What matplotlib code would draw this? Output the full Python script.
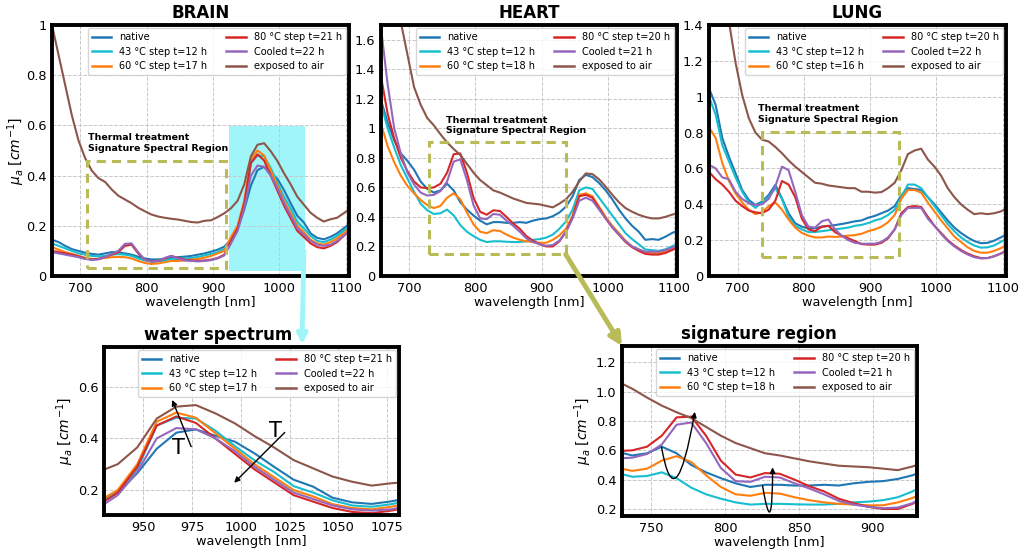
#!/usr/bin/env python3
"""
Absorption spectra (mu_a) of brain / heart / lung during thermal treatment,
plus zoomed views of the water band (brain) and the signature region (heart).
"""

import numpy as np
import matplotlib
matplotlib.use("Agg")
import matplotlib.pyplot as plt
from matplotlib.patches import Rectangle, ConnectionPatch
from matplotlib.ticker import FormatStrFormatter

OUT_PNG = "out.png"

# ── Data (10 nm steps) ────────────────────────────────────────────────────────
wavelength = np.arange(657, 1108, 10)

brain_native = [0.145, 0.135, 0.12, 0.107, 0.10, 0.093, 0.088, 0.085, 0.09, 0.095,
                0.095, 0.09, 0.085, 0.077, 0.07, 0.066, 0.066, 0.068, 0.072, 0.075,
                0.077, 0.08, 0.085, 0.09, 0.097, 0.105, 0.117, 0.145, 0.19, 0.265,
                0.36, 0.422, 0.435, 0.41, 0.387, 0.342, 0.29, 0.24, 0.213, 0.17,
                0.152, 0.146, 0.156, 0.17, 0.19, 0.21]
brain_43 = [0.13, 0.12, 0.11, 0.10, 0.09, 0.085, 0.08, 0.078, 0.08, 0.085,
            0.087, 0.085, 0.08, 0.07, 0.062, 0.058, 0.058, 0.062, 0.067, 0.068,
            0.07, 0.072, 0.076, 0.082, 0.088, 0.095, 0.108, 0.15, 0.195, 0.28,
            0.45, 0.48, 0.477, 0.43, 0.37, 0.315, 0.27, 0.215, 0.19, 0.16,
            0.14, 0.135, 0.145, 0.16, 0.18, 0.20]
brain_60 = [0.115, 0.105, 0.095, 0.088, 0.08, 0.073, 0.068, 0.068, 0.072, 0.075,
            0.076, 0.075, 0.07, 0.06, 0.052, 0.048, 0.05, 0.055, 0.06, 0.06,
            0.062, 0.065, 0.068, 0.073, 0.08, 0.09, 0.10, 0.155, 0.20, 0.30,
            0.465, 0.50, 0.48, 0.42, 0.36, 0.30, 0.25, 0.20, 0.175, 0.145,
            0.13, 0.125, 0.135, 0.15, 0.17, 0.19]
brain_80 = [0.10, 0.095, 0.09, 0.085, 0.078, 0.07, 0.066, 0.068, 0.075, 0.085,
            0.095, 0.12, 0.125, 0.09, 0.065, 0.058, 0.06, 0.07, 0.08, 0.072,
            0.065, 0.062, 0.06, 0.062, 0.065, 0.072, 0.085, 0.14, 0.19, 0.29,
            0.45, 0.485, 0.46, 0.40, 0.34, 0.28, 0.23, 0.18, 0.155, 0.13,
            0.115, 0.11, 0.12, 0.135, 0.16, 0.18]
brain_cooled = [0.095, 0.09, 0.085, 0.08, 0.075, 0.068, 0.064, 0.066, 0.075, 0.088,
                0.10, 0.128, 0.13, 0.095, 0.065, 0.057, 0.06, 0.072, 0.08, 0.07,
                0.062, 0.06, 0.058, 0.06, 0.063, 0.07, 0.082, 0.13, 0.18, 0.27,
                0.40, 0.44, 0.435, 0.40, 0.35, 0.29, 0.24, 0.19, 0.165, 0.14,
                0.125, 0.12, 0.125, 0.14, 0.16, 0.18]
brain_air = [1.0, 0.88, 0.76, 0.64, 0.54, 0.47, 0.42, 0.39, 0.375, 0.345,
             0.32, 0.305, 0.29, 0.272, 0.258, 0.245, 0.237, 0.232, 0.228, 0.225,
             0.22, 0.215, 0.213, 0.22, 0.222, 0.235, 0.25, 0.27, 0.30, 0.365,
             0.477, 0.523, 0.529, 0.497, 0.458, 0.409, 0.365, 0.316, 0.284, 0.252,
             0.232, 0.217, 0.226, 0.232, 0.25, 0.27]

heart_native = [1.19, 1.04, 0.92, 0.83, 0.78, 0.72, 0.64, 0.59, 0.565, 0.58,
                0.625, 0.58, 0.50, 0.45, 0.41, 0.375, 0.35, 0.365, 0.365, 0.36,
                0.36, 0.365, 0.36, 0.375, 0.385, 0.39, 0.405, 0.43, 0.47, 0.54,
                0.65, 0.685, 0.67, 0.63, 0.58, 0.52, 0.45, 0.39, 0.34, 0.30,
                0.245, 0.25, 0.245, 0.265, 0.29, 0.31]
heart_43 = [1.17, 1.0, 0.87, 0.75, 0.66, 0.57, 0.49, 0.445, 0.42, 0.425,
            0.45, 0.41, 0.345, 0.30, 0.27, 0.245, 0.23, 0.235, 0.235, 0.232,
            0.23, 0.23, 0.235, 0.245, 0.25, 0.26, 0.28, 0.32, 0.37, 0.45,
            0.58, 0.60, 0.59, 0.53, 0.47, 0.41, 0.35, 0.29, 0.25, 0.215,
            0.18, 0.175, 0.17, 0.18, 0.20, 0.22]
heart_60 = [1.03, 0.88, 0.77, 0.68, 0.61, 0.56, 0.515, 0.48, 0.46, 0.475,
            0.53, 0.56, 0.52, 0.43, 0.35, 0.30, 0.29, 0.31, 0.305, 0.28,
            0.26, 0.245, 0.235, 0.23, 0.225, 0.225, 0.245, 0.275, 0.32, 0.41,
            0.55, 0.56, 0.54, 0.47, 0.40, 0.34, 0.29, 0.24, 0.20, 0.18,
            0.16, 0.155, 0.155, 0.165, 0.18, 0.20]
heart_80 = [1.35, 1.10, 0.93, 0.80, 0.71, 0.64, 0.60, 0.595, 0.60, 0.625,
            0.70, 0.825, 0.83, 0.70, 0.53, 0.435, 0.415, 0.445, 0.44, 0.40,
            0.355, 0.32, 0.27, 0.24, 0.215, 0.20, 0.20, 0.235, 0.30, 0.40,
            0.54, 0.55, 0.53, 0.46, 0.39, 0.33, 0.28, 0.23, 0.195, 0.17,
            0.15, 0.145, 0.145, 0.155, 0.175, 0.195]
heart_cooled = [1.68, 1.30, 1.00, 0.83, 0.70, 0.62, 0.565, 0.545, 0.55, 0.575,
                0.64, 0.775, 0.79, 0.65, 0.48, 0.39, 0.385, 0.42, 0.415, 0.375,
                0.34, 0.30, 0.255, 0.23, 0.215, 0.205, 0.21, 0.24, 0.30, 0.39,
                0.51, 0.53, 0.51, 0.45, 0.39, 0.33, 0.28, 0.235, 0.20, 0.18,
                0.165, 0.165, 0.165, 0.175, 0.19, 0.21]
heart_air = [2.6, 2.3, 2.0, 1.72, 1.5, 1.28, 1.16, 1.07, 1.02, 0.96,
             0.905, 0.86, 0.82, 0.76, 0.70, 0.65, 0.615, 0.58, 0.565, 0.545,
             0.525, 0.51, 0.495, 0.49, 0.485, 0.475, 0.465, 0.49, 0.52, 0.57,
             0.64, 0.695, 0.69, 0.655, 0.605, 0.55, 0.50, 0.46, 0.435, 0.415,
             0.40, 0.39, 0.39, 0.40, 0.415, 0.425]

lung_native = [1.047, 0.954, 0.77, 0.666, 0.573, 0.48, 0.424, 0.396, 0.415, 0.452,
               0.508, 0.433, 0.35, 0.294, 0.275, 0.266, 0.266, 0.275, 0.279, 0.284,
               0.29, 0.297, 0.305, 0.31, 0.325, 0.335, 0.35, 0.365, 0.39, 0.45,
               0.49, 0.485, 0.48, 0.44, 0.40, 0.355, 0.31, 0.27, 0.24, 0.215,
               0.195, 0.183, 0.185, 0.197, 0.215, 0.235]
lung_43 = [1.0, 0.9, 0.73, 0.64, 0.55, 0.47, 0.41, 0.38, 0.41, 0.44,
           0.49, 0.43, 0.33, 0.28, 0.26, 0.245, 0.245, 0.25, 0.255, 0.26,
           0.265, 0.27, 0.28, 0.285, 0.295, 0.31, 0.32, 0.34, 0.37, 0.44,
           0.51, 0.51, 0.49, 0.44, 0.39, 0.34, 0.29, 0.25, 0.215, 0.19,
           0.17, 0.158, 0.16, 0.17, 0.19, 0.21]
lung_60 = [0.83, 0.77, 0.63, 0.53, 0.46, 0.41, 0.37, 0.345, 0.355, 0.39,
           0.41, 0.37, 0.315, 0.27, 0.24, 0.225, 0.215, 0.215, 0.22, 0.218,
           0.22, 0.225, 0.228, 0.235, 0.25, 0.26, 0.275, 0.30, 0.34, 0.43,
           0.48, 0.48, 0.465, 0.41, 0.36, 0.31, 0.265, 0.22, 0.19, 0.16,
           0.14, 0.13, 0.13, 0.14, 0.155, 0.175]
lung_80 = [0.58, 0.54, 0.51, 0.47, 0.42, 0.39, 0.365, 0.355, 0.35, 0.37,
           0.42, 0.53, 0.51, 0.44, 0.32, 0.26, 0.25, 0.275, 0.28, 0.245,
           0.225, 0.21, 0.195, 0.178, 0.175, 0.175, 0.185, 0.21, 0.26, 0.35,
           0.385, 0.39, 0.385, 0.33, 0.28, 0.24, 0.20, 0.17, 0.145, 0.125,
           0.11, 0.10, 0.10, 0.11, 0.125, 0.145]
lung_cooled = [0.62, 0.60, 0.55, 0.54, 0.47, 0.43, 0.405, 0.395, 0.40, 0.43,
               0.50, 0.61, 0.59, 0.47, 0.34, 0.275, 0.27, 0.305, 0.315, 0.26,
               0.225, 0.20, 0.185, 0.18, 0.18, 0.18, 0.19, 0.215, 0.26, 0.34,
               0.38, 0.38, 0.38, 0.32, 0.28, 0.235, 0.195, 0.165, 0.14, 0.12,
               0.105, 0.098, 0.10, 0.11, 0.125, 0.145]
lung_air = [2.2, 1.9, 1.65, 1.42, 1.19, 1.01, 0.88, 0.80, 0.76, 0.75,
            0.72, 0.685, 0.645, 0.61, 0.58, 0.55, 0.52, 0.515, 0.505, 0.50,
            0.495, 0.49, 0.49, 0.47, 0.47, 0.465, 0.468, 0.49, 0.52, 0.59,
            0.68, 0.70, 0.71, 0.65, 0.61, 0.56, 0.49, 0.44, 0.40, 0.37,
            0.345, 0.35, 0.345, 0.35, 0.36, 0.38]

brain_labels = ["native", "43 °C step t=12 h", "60 °C step t=17 h",
                "80 °C step t=21 h", "Cooled t=22 h", "exposed to air"]
heart_labels = ["native", "43 °C step t=12 h", "60 °C step t=18 h",
                "80 °C step t=20 h", "Cooled t=21 h", "exposed to air"]
lung_labels = ["native", "43 °C step t=12 h", "60 °C step t=16 h",
               "80 °C step t=20 h", "Cooled t=22 h", "exposed to air"]

COLORS = ["#1f77b4", "#17becf", "#ff7f0e", "#d62728", "#9467bd", "#8c564b"]
OLIVE = "#b8bb58"
AQUA = "#a0f5f8"
REGION_TXT = "Thermal treatment\nSignature Spectral Region"
YLABEL = r"$\mu_a\ [cm^{-1}]$"

brain = [brain_native, brain_43, brain_60, brain_80, brain_cooled, brain_air]
heart = [heart_native, heart_43, heart_60, heart_80, heart_cooled, heart_air]
lung = [lung_native, lung_43, lung_60, lung_80, lung_cooled, lung_air]


def draw_panel(ax, series, labels, xlim, ylim, fmt=None):
    for vals, lab, col in zip(series, labels, COLORS):
        ax.plot(wavelength, vals, color=col, lw=1.5, label=lab)
    ax.set_xlim(*xlim)
    ax.set_ylim(*ylim)
    ax.grid(True, ls="--", color="#c8c8c8", lw=0.7)
    ax.set_axisbelow(True)
    ax.tick_params(length=0, labelsize=9.3, pad=4)
    for sp in ax.spines.values():
        sp.set_linewidth(2.8)
        sp.set_color("black")
    if fmt:
        ax.yaxis.set_major_formatter(FormatStrFormatter(fmt))
    ax.set_xlabel("wavelength [nm]", fontsize=9.3, labelpad=1)
    leg = ax.legend(loc="upper right", ncol=2, fontsize=7.0, borderaxespad=0.35,
                    labelspacing=0.45, borderpad=0.4)
    for h in leg.get_lines():
        h.set_linewidth(1.8)


def region_box(ax, x0, x1, y0, y1, tx, ty):
    ax.add_patch(Rectangle((x0, y0), x1 - x0, y1 - y0, fill=False, ec=OLIVE,
                           lw=2.2, ls=(0, (3, 2)), zorder=4))
    ax.text(tx, ty, REGION_TXT, fontsize=6.8, fontweight="bold", ha="left",
            va="bottom", linespacing=1.25, zorder=5)


fig = plt.figure(figsize=(10.19, 5.52), dpi=100)

# ── Top row ───────────────────────────────────────────────────────────────────
ax_b = fig.add_axes([0.0510, 0.5, 0.2915, 0.4547])
ax_h = fig.add_axes([0.3739, 0.5, 0.2905, 0.4547])
ax_l = fig.add_axes([0.6958, 0.5, 0.2915, 0.4547])

draw_panel(ax_b, brain, brain_labels, (657, 1105), (0, 1.0), "%g")
draw_panel(ax_h, heart, heart_labels, (657, 1105), (0, 1.7), "%g")
draw_panel(ax_l, lung, lung_labels, (657, 1105), (0, 1.4), "%g")
for ax, top in [(ax_b, 1.0), (ax_h, 1.6), (ax_l, 1.4)]:
    ax.set_yticks(np.arange(0, top + 0.01, 0.2))
    ax.set_xticks([700, 800, 900, 1000, 1100])
ax_b.set_title("BRAIN", fontsize=12, fontweight="bold", pad=5)
ax_h.set_title("HEART", fontsize=12, fontweight="bold", pad=5)
ax_l.set_title("LUNG", fontsize=12, fontweight="bold", pad=5)
ax_b.set_ylabel(YLABEL, fontsize=10, labelpad=-1)

ax_b.add_patch(Rectangle((924, 0.021), 1039 - 924, 0.598 - 0.021, color=AQUA,
                         lw=0, zorder=0.5))
region_box(ax_b, 710, 919, 0.031, 0.458, 711, 0.49)
region_box(ax_h, 729, 936.5, 0.147, 0.91, 756, 0.953)
region_box(ax_l, 737.6, 944, 0.108, 0.805, 731, 0.849)

# ── Bottom row ────────────────────────────────────────────────────────────────
ax_w = fig.add_axes([0.1021, 0.0670, 0.2895, 0.3043])
ax_s = fig.add_axes([0.6104, 0.0652, 0.2895, 0.308])

draw_panel(ax_w, brain, brain_labels, (930, 1081), (0.103, 0.754))
ax_w.set_yticks([0.2, 0.4, 0.6])
ax_w.set_xticks([950, 975, 1000, 1025, 1050, 1075])
ax_w.set_ylabel(YLABEL, fontsize=10, labelpad=1)
ax_w.set_title("water spectrum", fontsize=12, fontweight="bold", pad=5, x=0.386)

draw_panel(ax_s, heart, heart_labels, (730, 930), (0.152, 1.312))
ax_s.set_yticks([0.2, 0.4, 0.6, 0.8, 1.0, 1.2])
ax_s.set_ylabel(YLABEL, fontsize=10, labelpad=1)
ax_s.set_title("signature region", fontsize=12, fontweight="bold", pad=5, x=0.464)

# temperature arrows in the water band
arr = dict(arrowstyle="-|>", color="black", lw=1.0, mutation_scale=8,
           shrinkA=0, shrinkB=0)
ax_w.annotate("", xy=(964.9, 0.549), xytext=(974.6, 0.368), arrowprops=arr)
ax_w.annotate("", xy=(996.6, 0.228), xytext=(1022.5, 0.423), arrowprops=arr)
ax_w.text(968, 0.364, "T", fontsize=15, ha="center", va="center")
ax_w.text(1017.6, 0.43, "T", fontsize=15, ha="center", va="center")

# curved arrows in the signature region
ax_s.annotate("", xy=(779.4, 0.863), xytext=(756.8, 0.622),
              arrowprops=dict(arr, connectionstyle="angle3,angleA=-80,angleB=80"))
ax_s.annotate("", xy=(832.1, 0.484), xytext=(825.3, 0.358),
              arrowprops=dict(arr, connectionstyle="angle3,angleA=-80.5,angleB=90"))

# ── Connector arrows between panels ──────────────────────────────────────────
fig.add_artist(ConnectionPatch(xyA=(1037, 0.1), coordsA=ax_b.transData,
                               xyB=(0.671, 1.015), coordsB=ax_w.transAxes,
                               arrowstyle="-|>", color=AQUA, lw=3.5,
                               mutation_scale=14, zorder=6))
fig.add_artist(ConnectionPatch(xyA=(936.5, 0.147), coordsA=ax_h.transData,
                               xyB=(0.0, 1.0), coordsB=ax_s.transAxes,
                               arrowstyle="-|>", color=OLIVE, lw=3.5,
                               mutation_scale=18, zorder=6))

fig.savefig(OUT_PNG, dpi=100)
plt.close(fig)
print(f"Saved: {OUT_PNG}")
